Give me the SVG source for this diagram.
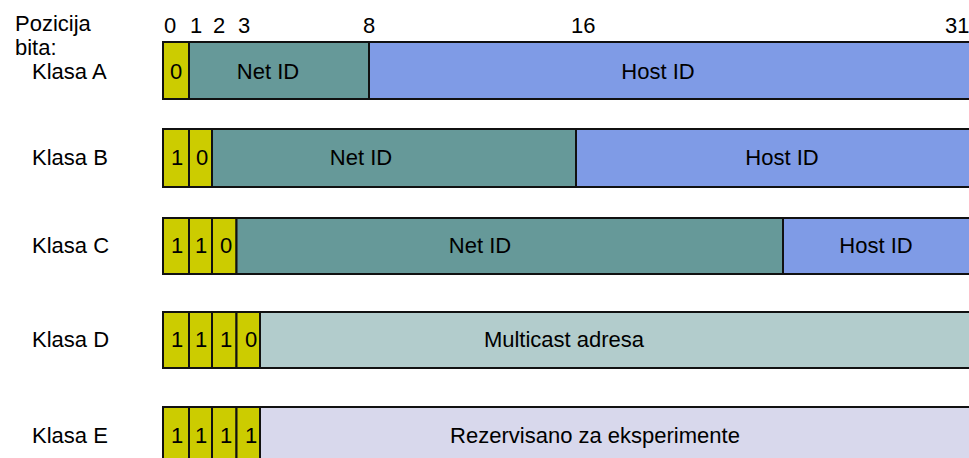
<svg xmlns="http://www.w3.org/2000/svg" width="969" height="458" viewBox="0 0 969 458">
<style>
text{font-family:"Liberation Sans",Arial,sans-serif;font-size:22px;fill:#000}
.c{text-anchor:middle}
.cell{stroke:#111;stroke-width:2}
.y{fill:#cccc00}
.n{fill:#669999}
.h{fill:#7f9be6}
.m{fill:#b2cccc}
.r{fill:#d8d8ec}
</style>
<rect width="969" height="458" fill="#fff"/>
<g id="header">
<text x="15" y="31">Pozicija</text>
<text x="15" y="55">bita:</text>
<text x="164" y="33">0</text>
<text x="190" y="33">1</text>
<text x="213" y="33">2</text>
<text x="238" y="33">3</text>
<text x="363" y="33">8</text>
<text x="571" y="33">16</text>
<text x="945" y="33">31</text>
</g>
<g id="klasa-a">
<text x="32" y="79">Klasa A</text>
<rect class="cell y" x="163" y="42" width="26" height="57"/>
<rect class="cell n" x="189" y="42" width="180" height="57"/>
<rect class="cell h" x="369" y="42" width="620" height="57"/>
<text class="c" x="176" y="79">0</text>
<text class="c" x="268" y="79">Net ID</text>
<text class="c" x="658" y="79">Host ID</text>
</g>
<g id="klasa-b">
<text x="32" y="165">Klasa B</text>
<rect class="cell y" x="163" y="129" width="26" height="58"/>
<rect class="cell y" x="189" y="129" width="23" height="58"/>
<rect class="cell n" x="212" y="129" width="364" height="58"/>
<rect class="cell h" x="576" y="129" width="413" height="58"/>
<text class="c" x="177" y="165">1</text>
<text class="c" x="202" y="165">0</text>
<text class="c" x="361" y="165">Net ID</text>
<text class="c" x="782" y="165">Host ID</text>
</g>
<g id="klasa-c">
<text x="32" y="253">Klasa C</text>
<rect class="cell y" x="163" y="218" width="26" height="56"/>
<rect class="cell y" x="189" y="218" width="23" height="56"/>
<rect class="cell y" x="212" y="218" width="24.5" height="56"/>
<rect class="cell n" x="236.5" y="218" width="546.5" height="56"/>
<rect class="cell h" x="783" y="218" width="206" height="56"/>
<text class="c" x="177" y="253">1</text>
<text class="c" x="201" y="253">1</text>
<text class="c" x="226" y="253">0</text>
<text class="c" x="480" y="253">Net ID</text>
<text class="c" x="876" y="253">Host ID</text>
</g>
<g id="klasa-d">
<text x="32" y="347">Klasa D</text>
<rect class="cell y" x="163" y="312" width="26" height="56"/>
<rect class="cell y" x="189" y="312" width="23" height="56"/>
<rect class="cell y" x="212" y="312" width="24.5" height="56"/>
<rect class="cell y" x="236.5" y="312" width="23.5" height="56"/>
<rect class="cell m" x="260" y="312" width="729" height="56"/>
<text class="c" x="177" y="347">1</text>
<text class="c" x="201" y="347">1</text>
<text class="c" x="226" y="347">1</text>
<text class="c" x="251" y="347">0</text>
<text class="c" x="564" y="347">Multicast adresa</text>
</g>
<g id="klasa-e">
<text x="32" y="443">Klasa E</text>
<rect class="cell y" x="163" y="407" width="26" height="60"/>
<rect class="cell y" x="189" y="407" width="23" height="60"/>
<rect class="cell y" x="212" y="407" width="24.5" height="60"/>
<rect class="cell y" x="236.5" y="407" width="23.5" height="60"/>
<rect class="cell r" x="260" y="407" width="729" height="60"/>
<text class="c" x="177" y="443">1</text>
<text class="c" x="201" y="443">1</text>
<text class="c" x="226" y="443">1</text>
<text class="c" x="251" y="443">1</text>
<text class="c" x="595" y="443">Rezervisano za eksperimente</text>
</g>
<g id="connectors"></g>
</svg>
